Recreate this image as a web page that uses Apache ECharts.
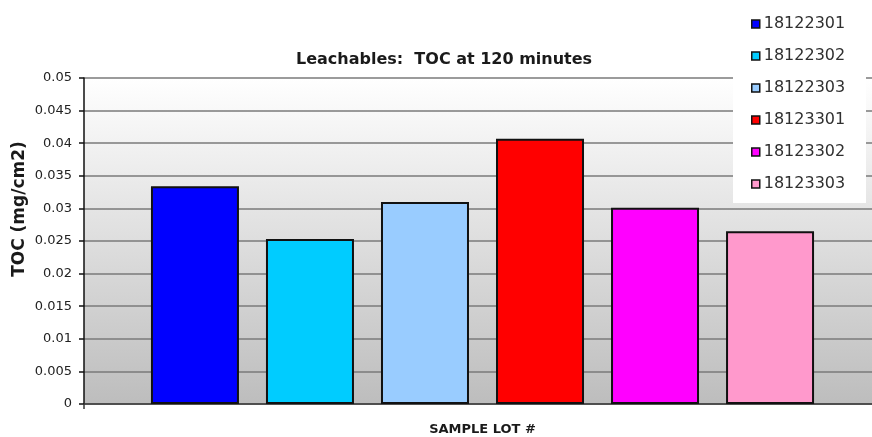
<!DOCTYPE html>
<html>
<head>
<meta charset="utf-8">
<title>Leachables: TOC at 120 minutes</title>
<script src="https://cdn.jsdelivr.net/npm/echarts@6/dist/echarts.min.js"></script>
<style>
  html, body { margin: 0; padding: 0; background: #ffffff; }
  #chart { width: 872px; height: 437px; }
</style>
</head>
<body>
<div id="chart"></div>
<script>
// Sample lots (one bar series per lot)
const lots = ['18122301', '18122302', '18122303', '18123301', '18123302', '18123303'];
// TOC leachables at 120 minutes, mg/cm2
const tocValues = [0.0334, 0.0253, 0.0310, 0.0407, 0.0301, 0.0265];
// Bar fill colours, in lot order
const lotColors = ['#0000ff', '#00ccff', '#99ccff', '#ff0000', '#ff00ff', '#ff99cc'];
// Value axis tick labels, bottom to top
const yTickLabels = ['0', '0.005', '0.01', '0.015', '0.02', '0.025', '0.03', '0.035', '0.04', '0.045', '0.05'];
const categories = [''];

const FONT = '"DejaVu Sans", "Liberation Sans", Arial, sans-serif';
const chart = echarts.init(document.getElementById('chart'), null, { renderer: 'canvas' });

const series = lots.map((name, i) => ({
  name: name,
  type: 'bar',
  data: [tocValues[i]],
  barWidth: 88,
  barGap: '30.7%',
  itemStyle: { color: lotColors[i], borderColor: '#111111', borderWidth: 2 },
  emphasis: { disabled: true }
}));

chart.setOption({
  animation: false,
  backgroundColor: '#ffffff',
  title: {
    text: 'Leachables:  TOC at 120 minutes',
    left: 291,
    top: 47,
    textStyle: { fontFamily: FONT, fontSize: 16, fontWeight: 'bold', color: '#1a1a1a' }
  },
  legend: {
    orient: 'vertical',
    left: 751,
    top: 16,
    padding: 0,
    itemWidth: 8,
    itemHeight: 8,
    itemGap: 16,
    icon: 'rect',
    data: lots,
    itemStyle: { borderColor: '#111111', borderWidth: 1.5 },
    textStyle: { fontFamily: FONT, fontSize: 16, color: '#303030', padding: [0, 0, 0, -1] },
    z: 10
  },
  grid: {
    left: 84,
    top: 78,
    width: 797,
    height: 326,
    outerBoundsMode: 'none',
    containLabel: false,
    show: true,
    borderWidth: 0,
    backgroundColor: new echarts.graphic.LinearGradient(0, 0, 0, 1, [
      { offset: 0, color: '#ffffff' },
      { offset: 1, color: '#bdbdbd' }
    ])
  },
  xAxis: {
    type: 'category',
    data: categories,
    name: 'SAMPLE LOT #',
    nameLocation: 'middle',
    nameGap: 19,
    nameTextStyle: { fontFamily: FONT, fontSize: 13, fontWeight: 'bold', color: '#1a1a1a' },
    axisLine: { show: true, lineStyle: { color: '#3a3a3a', width: 1.5 } },
    axisTick: { show: true, length: 5, lineStyle: { color: '#3a3a3a', width: 1.5 } },
    axisLabel: { show: false },
    splitLine: { show: false }
  },
  yAxis: {
    type: 'value',
    min: 0,
    max: 0.05,
    interval: 0.005,
    axisLine: { show: true, lineStyle: { color: '#111111', width: 1.5 } },
    axisTick: { show: true, length: 5, lineStyle: { color: '#111111', width: 1.5 } },
    axisLabel: {
      margin: 12,
      fontFamily: FONT,
      fontSize: 13,
      color: '#222222',
      formatter: (v) => yTickLabels[Math.round(v / 0.005)]
    },
    splitLine: { show: true, lineStyle: { color: '#7a7a7a', width: 1.6 } }
  },
  graphic: [
    {
      // white panel behind the legend
      type: 'rect',
      z: 3,
      shape: { x: 733, y: 0, width: 133, height: 203 },
      style: { fill: '#ffffff' }
    },
    {
      // value axis title, rotated
      type: 'text',
      z: 5,
      x: 20,
      y: 209,
      rotation: Math.PI / 2,
      style: {
        text: 'TOC (mg/cm2)',
        fontFamily: FONT,
        fontSize: 17,
        fontWeight: 'bold',
        fill: '#1a1a1a',
        align: 'center',
        verticalAlign: 'middle'
      }
    }
  ],
  series: series
});
</script>
</body>
</html>
